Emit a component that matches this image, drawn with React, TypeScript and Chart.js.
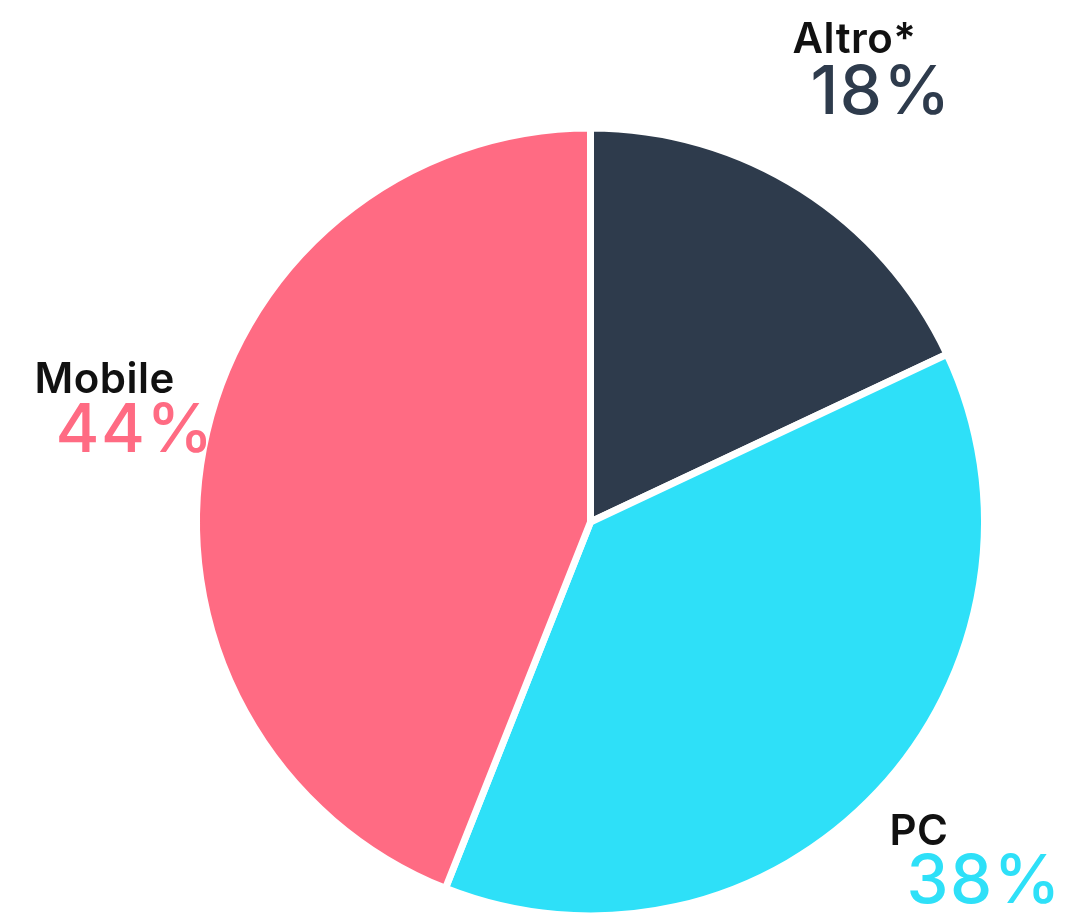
import React, { useEffect, useRef } from "react";
import { Chart, registerables } from "chart.js";

Chart.register(...registerables);

const categories = ["Altro*", "PC", "Mobile"];
const shares = [18, 38, 44];
const colors = ["#2E3B4C", "#2EE0F8", "#FF6B83"];

// label block offsets (title baseline-left, percent baseline-left) relative to pie centre
const labelOffsets = [
  { tx: 202, ty: -469, px: 220, py: -408 },
  { tx: 299, ty: 323, px: 316, py: 381 },
  { tx: -556, ty: -129, px: -535, py: -70 },
];

const labelPlugin = {
  id: "pieLabels",
  afterDraw(chart: any) {
    const ctx = chart.ctx;
    const meta = chart.getDatasetMeta(0);
    const arc = meta.data[0];
    if (!arc) return;
    const cx = arc.x;
    const cy = arc.y;
    ctx.save();
    ctx.textAlign = "left";
    ctx.textBaseline = "alphabetic";
    categories.forEach((name, i) => {
      const o = labelOffsets[i];
      ctx.fillStyle = "#111111";
      ctx.font = "600 42px Inter";
      (ctx as any).letterSpacing = "0.5px";
      ctx.fillText(name, cx + o.tx, cy + o.ty);
      ctx.fillStyle = colors[i];
      ctx.font = "500 67px Inter";
      (ctx as any).letterSpacing = "1.5px";
      ctx.fillText(shares[i] + "%", cx + o.px, cy + o.py);
    });
    ctx.restore();
  },
};

export default function App() {
  const ref = useRef<HTMLCanvasElement>(null);
  useEffect(() => {
    if (!ref.current) return;
    const chart = new Chart(ref.current, {
      type: "pie",
      data: {
        labels: categories,
        datasets: [
          {
            data: shares,
            backgroundColor: colors,
            borderColor: "#ffffff",
            borderWidth: 7,
            radius: 394,
          } as any,
        ],
      },
      options: {
        animation: false,
        responsive: false,
        layout: { padding: { left: 116, right: 0, top: 130, bottom: 0 } },
        plugins: {
          legend: { display: false },
          tooltip: { enabled: false },
        },
      },
      plugins: [labelPlugin],
    });
    return () => chart.destroy();
  }, []);
  return (
    <div style={{ position: "fixed", left: 0, top: 0, width: 1065, height: 914, background: "#fff" }}>
      <canvas ref={ref} width={1065} height={914} style={{ display: "block" }} />
    </div>
  );
}
